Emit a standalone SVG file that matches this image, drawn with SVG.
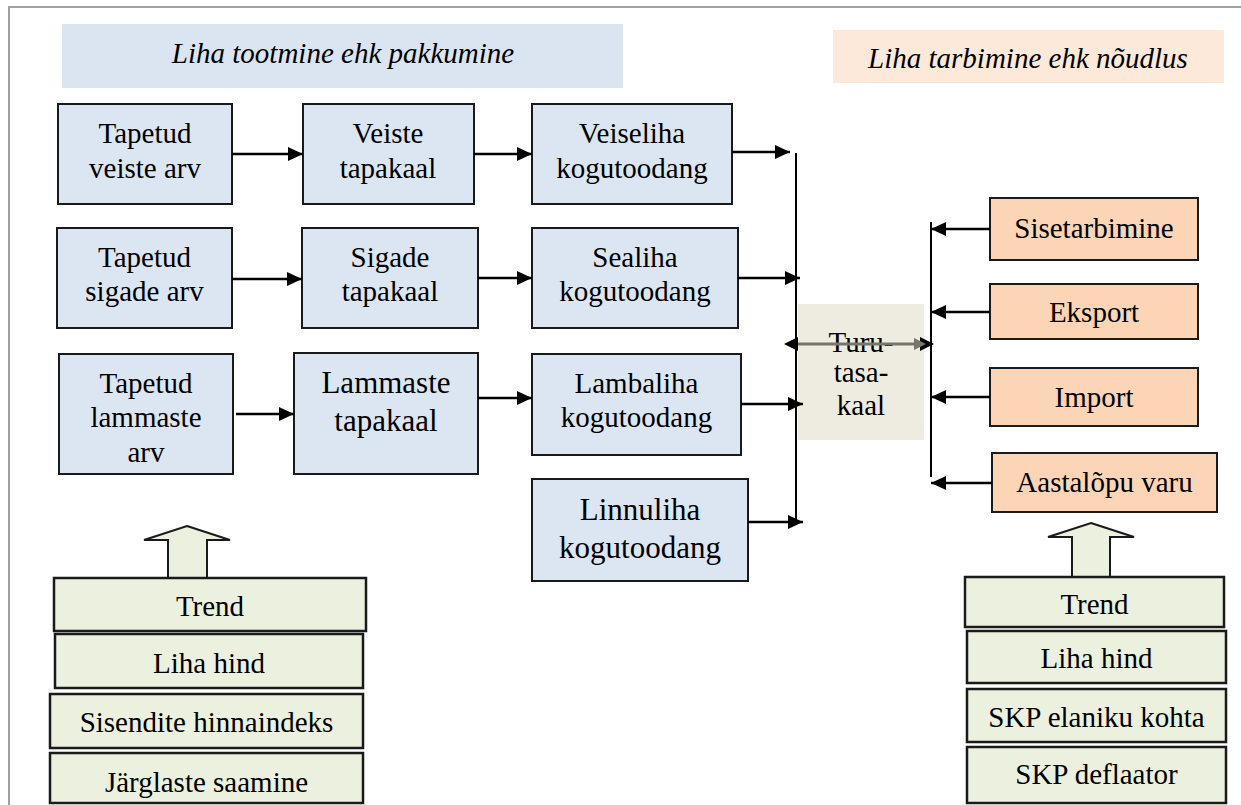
<svg xmlns="http://www.w3.org/2000/svg" width="1241" height="805" viewBox="0 0 1241 805" font-family="Liberation Serif, Times New Roman, serif">
<defs>
<style>
text{font-size:29px;fill:#000;text-anchor:middle}
.it{font-style:italic;font-size:29px}
.big{font-size:31px}
.blue{fill:#dce6f2;stroke:#1a1a1a;stroke-width:2}
.orange{fill:#fbd5b5;stroke:#1a1a1a;stroke-width:2}
.green{fill:#ebf1de;stroke:#1a1a1a;stroke-width:2.5}
.ln{stroke:#000;stroke-width:2.5;fill:none}
.bus{stroke:#000;stroke-width:2;fill:none}
</style>
<marker id="ah" markerUnits="userSpaceOnUse" markerWidth="16" markerHeight="16" refX="15" refY="7" orient="auto">
<path d="M0,0 L15,7 L0,14 z" fill="#000"/>
</marker>
</defs>
<rect width="1241" height="805" fill="#fff"/>
<path d="M9,805 V7 H1241" fill="none" stroke="#a0a0a0" stroke-width="2"/>

<g id="header-supply">
<rect x="62" y="24" width="561" height="64" fill="#dbe5f1"/>
<text class="it" x="343" y="63" font-family="Liberation Serif, serif">Liha tootmine ehk pakkumine</text>
</g>
<g id="header-demand">
<rect x="833" y="30" width="391" height="53" fill="#fde9d9"/>
<text class="it" x="1028" y="68" font-family="Liberation Serif, serif">Liha tarbimine ehk nõudlus</text>
</g>

<g id="n-tapetud-veiste"><rect class="blue" x="58" y="104" width="174" height="100"/><text x="145" y="143">Tapetud</text><text x="145" y="178">veiste arv</text></g>
<g id="n-veiste-tapakaal"><rect class="blue" x="303" y="104" width="171" height="100"/><text x="388" y="143">Veiste</text><text x="388" y="178">tapakaal</text></g>
<g id="n-veiseliha"><rect class="blue" x="532" y="104" width="200" height="100"/><text x="632" y="143">Veiseliha</text><text x="632" y="178">kogutoodang</text></g>

<g id="n-tapetud-sigade"><rect class="blue" x="57" y="228" width="175" height="100"/><text x="144.5" y="267">Tapetud</text><text x="144.5" y="301">sigade arv</text></g>
<g id="n-sigade-tapakaal"><rect class="blue" x="302" y="228" width="176" height="100"/><text x="390" y="267">Sigade</text><text x="390" y="301">tapakaal</text></g>
<g id="n-sealiha"><rect class="blue" x="532" y="228" width="206" height="100"/><text x="635" y="267">Sealiha</text><text x="635" y="301">kogutoodang</text></g>

<g id="n-tapetud-lammaste"><rect class="blue" x="59" y="354" width="174" height="120"/><text x="146" y="393">Tapetud</text><text x="146" y="427">lammaste</text><text x="146" y="462">arv</text></g>
<g id="n-lammaste-tapakaal"><rect class="blue" x="294" y="353" width="184" height="121"/><text class="big" x="386" y="393">Lammaste</text><text class="big" x="386" y="431">tapakaal</text></g>
<g id="n-lambaliha"><rect class="blue" x="532" y="354" width="209" height="101"/><text x="636.5" y="393">Lambaliha</text><text x="636.5" y="427">kogutoodang</text></g>

<g id="n-linnuliha"><rect class="blue" x="532" y="479" width="216" height="102"/><text class="big" x="640" y="520">Linnuliha</text><text class="big" x="640" y="558">kogutoodang</text></g>

<g id="n-turutasakaal"><rect x="798" y="304" width="126" height="136" fill="#eeece1"/><text x="861" y="352">Turu-</text><text x="861" y="382">tasa-</text><text x="861" y="415">kaal</text></g>

<g id="n-sisetarbimine"><rect class="orange" x="990" y="198" width="208" height="62"/><text x="1094" y="238">Sisetarbimine</text></g>
<g id="n-eksport"><rect class="orange" x="990" y="284" width="208" height="55"/><text x="1094" y="322">Eksport</text></g>
<g id="n-import"><rect class="orange" x="990" y="368" width="208" height="58"/><text x="1094" y="407">Import</text></g>
<g id="n-aastalopu"><rect class="orange" x="992" y="453" width="225" height="59"/><text x="1104.5" y="492">Aastalõpu varu</text></g>

<g id="n-supply-factors">
<path d="M187,526 L230,540 L207,540 L207,578 L168,578 L168,540 L144,540 Z" fill="#ebf1de" stroke="#1a1a1a" stroke-width="2"/>
<rect class="green" x="54" y="578" width="312" height="53"/><text x="210" y="616">Trend</text>
<rect class="green" x="55" y="634" width="308" height="54"/><text x="209" y="673">Liha hind</text>
<rect class="green" x="50" y="694" width="313" height="54"/><text x="206.5" y="732">Sisendite hinnaindeks</text>
<rect class="green" x="50" y="753" width="313" height="50"/><text x="206.5" y="792">Järglaste saamine</text>
</g>

<g id="n-demand-factors">
<path d="M1091,523 L1134,537 L1110,537 L1110,577 L1072,577 L1072,537 L1048,537 Z" fill="#ebf1de" stroke="#1a1a1a" stroke-width="2"/>
<rect class="green" x="965" y="577" width="259" height="50"/><text x="1094.5" y="614">Trend</text>
<rect class="green" x="967" y="631" width="259" height="52"/><text x="1096.5" y="668">Liha hind</text>
<rect class="green" x="967" y="689" width="259" height="53"/><text x="1096.5" y="727">SKP elaniku kohta</text>
<rect class="green" x="967" y="747" width="259" height="56"/><text x="1096.5" y="784">SKP deflaator</text>
</g>

<g id="connectors">
<line class="bus" x1="796" y1="153" x2="796" y2="524"/>
<line class="bus" x1="931" y1="222" x2="931" y2="477"/>
<line class="ln" x1="232" y1="154" x2="303" y2="154" marker-end="url(#ah)"/>
<line class="ln" x1="474" y1="154" x2="532" y2="154" marker-end="url(#ah)"/>
<line class="ln" x1="732" y1="152" x2="790" y2="152" marker-end="url(#ah)"/>
<line class="ln" x1="232" y1="279" x2="302" y2="279" marker-end="url(#ah)"/>
<line class="ln" x1="478" y1="278" x2="532" y2="278" marker-end="url(#ah)"/>
<line class="ln" x1="738" y1="278" x2="800" y2="278" marker-end="url(#ah)"/>
<line class="ln" x1="236" y1="414" x2="294" y2="414" marker-end="url(#ah)"/>
<line class="ln" x1="478" y1="398" x2="532" y2="398" marker-end="url(#ah)"/>
<line class="ln" x1="741" y1="404" x2="803" y2="404" marker-end="url(#ah)"/>
<line class="ln" x1="748" y1="522" x2="803" y2="522" marker-end="url(#ah)"/>
<line class="ln" x1="990" y1="229" x2="931" y2="229" marker-end="url(#ah)"/>
<line class="ln" x1="990" y1="312" x2="931" y2="312" marker-end="url(#ah)"/>
<line class="ln" x1="990" y1="397" x2="931" y2="397" marker-end="url(#ah)"/>
<line class="ln" x1="992" y1="483" x2="931" y2="483" marker-end="url(#ah)"/>
<line x1="792" y1="344" x2="926" y2="344" stroke="#76766a" stroke-width="3"/>
<path d="M784,344 L798,337 L798,351 Z" fill="#000"/>
<path d="M934,344 L920,337 L920,351 Z" fill="#000"/>
<path d="M926,344 L914,338 L914,350 Z" fill="#76766a"/>
</g>
</svg>
